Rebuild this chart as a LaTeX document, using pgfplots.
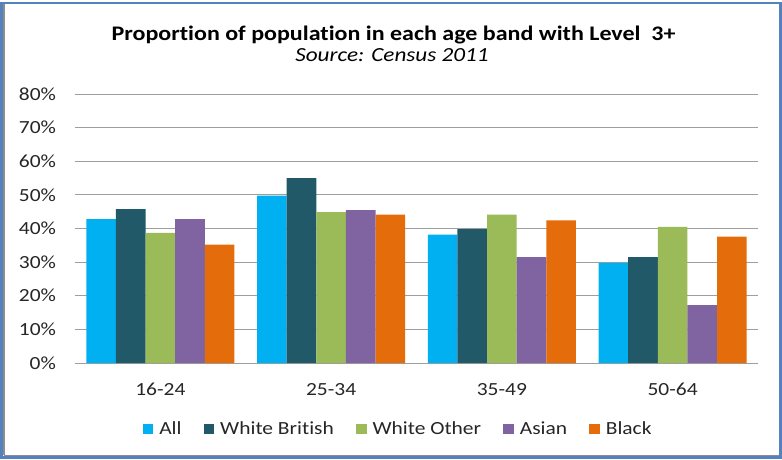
\documentclass[border=0pt]{standalone}
\usepackage{fontspec}
\setmainfont{Carlito}[FakeStretch=1.16, Ligatures=NoCommon]
\usepackage{pgfplots}
\pgfplotsset{compat=1.18}
\definecolor{cAll}{HTML}{00B0F0}
\definecolor{cWB}{HTML}{215968}
\definecolor{cWO}{HTML}{9BBB59}
\definecolor{cAs}{HTML}{8064A2}
\definecolor{cBl}{HTML}{E46C0A}
\definecolor{frameblue}{RGB}{84,130,190}
\definecolor{txt}{RGB}{38,38,38}
\pgfplotsset{sqlegend/.style={legend image code/.code={\fill[##1] (0pt,-5.3pt) rectangle (10.7pt,5.3pt);}}}
\begin{document}
\begin{tikzpicture}[x=1pt,y=1pt]
\path[use as bounding box] (-75,-96) rectangle (707,363);
\fill[white] (-75,-96) rectangle (707,363);
\begin{axis}[
  scale only axis, width=683pt, height=269pt,
  ybar=0pt, bar width=0.1734,
  xmin=-0.5, xmax=3.5, ymin=0, ymax=80,
  xtick={0,1,2,3}, xticklabels={16-24,25-34,35-49,50-64},
  ytick={0,10,...,80},
  yticklabel={\pgfmathprintnumber{\tick}\%},
  /pgf/number format/assume math mode=true,
  axis line style={draw=none},
  major tick length=0pt,
  ymajorgrids, grid style={draw=black!38, line width=1pt},
  tick label style={font=\fontsize{18.5}{18.5}\selectfont, text=txt},
  yticklabel style={anchor=east, xshift=-15.5pt},
  xticklabel style={anchor=base, yshift=-32pt},
  every axis plot post/.append style={sqlegend, draw=none},
  legend columns=-1,
  legend style={at={(0.473,-0.245)}, anchor=center, draw=none, fill=none,
    font=\fontsize{18.5}{18.5}\selectfont, text=txt,
    /tikz/every even column/.append style={column sep=20pt},
    /tikz/every odd column/.append style={column sep=4pt}},
  legend cell align=left,
]
\addplot[fill=cAll] coordinates {(0,42.8) (1,49.8) (2,38.2) (3,29.8)};
\addplot[fill=cWB] coordinates {(0,45.8) (1,55.0) (2,39.8) (3,31.5)};
\addplot[fill=cWO] coordinates {(0,38.7) (1,44.9) (2,44.1) (3,40.5)};
\addplot[fill=cAs] coordinates {(0,42.8) (1,45.5) (2,31.5) (3,17.2)};
\addplot[fill=cBl] coordinates {(0,35.2) (1,44.1) (2,42.4) (3,37.6)};
\legend{All, White British, White Other, Asian, Black}
\end{axis}
\node[anchor=base, font=\fontsize{20.7}{20.7}\selectfont\bfseries, text=black] at (318.5,323) {Proportion of population in each age band with Level\ \ 3+};
\node[anchor=base, font=\fontsize{20}{20}\selectfont\itshape, text=black] at (317,302) {Source: Census 2011};
\draw[black!45, line width=2pt] (-71,-92) -- (-71,360);
\draw[black!45, line width=2pt] (-71,-93) -- (705,-93);
\draw[black!45, line width=1.5pt] (705,-93) -- (705,360);
\draw[frameblue, line width=2.5pt] (-73.7,-94.7) rectangle (705.7,360);
\end{tikzpicture}
\end{document}
